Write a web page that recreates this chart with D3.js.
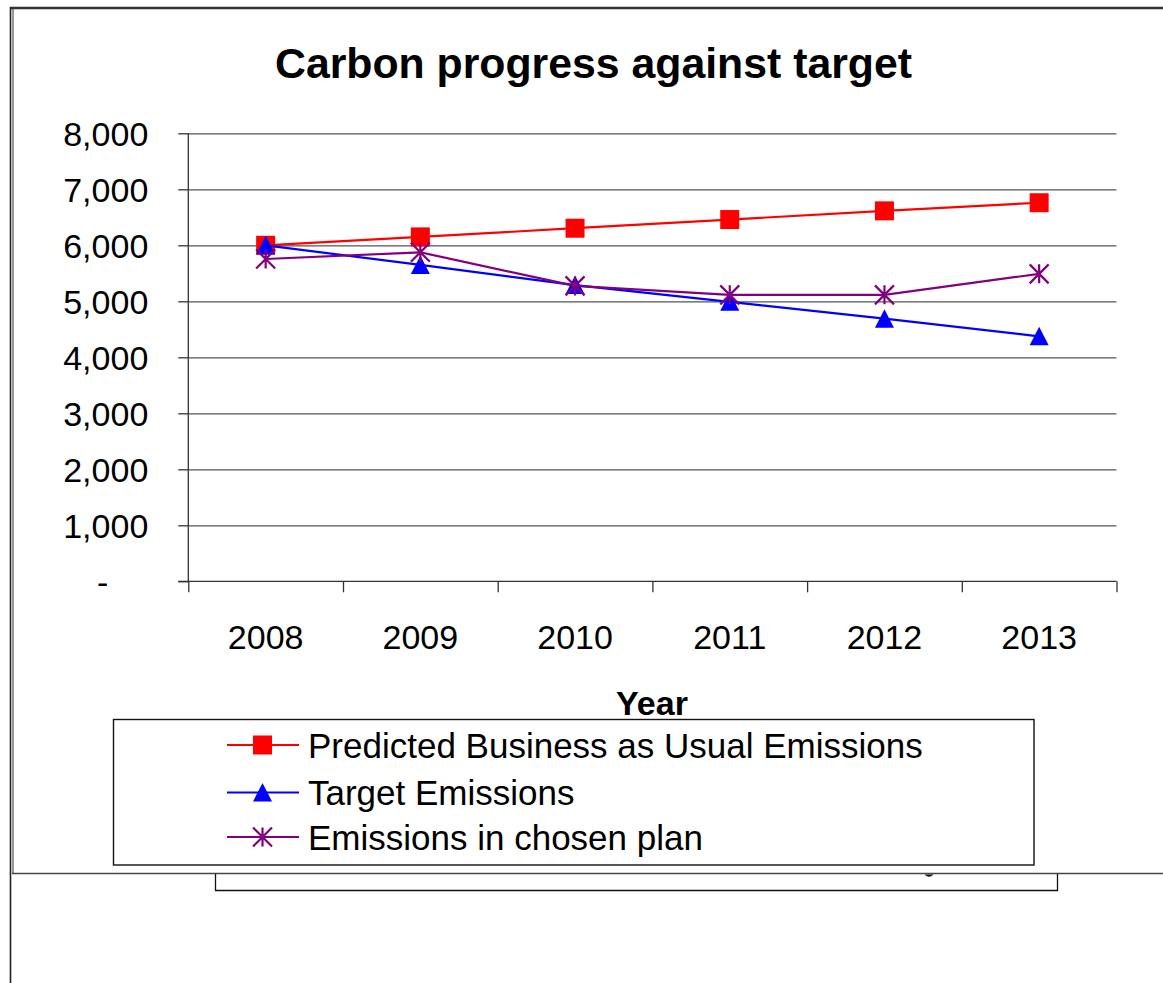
<!DOCTYPE html>
<html><head><meta charset="utf-8">
<script src="https://cdn.jsdelivr.net/npm/d3@7"></script>
<style>body{margin:0;background:#fff}svg{display:block}text{font-family:"Liberation Sans",Arial,sans-serif}</style>
</head><body>
<script>
const years = ["2008","2009","2010","2011","2012","2013"];
const bau = [6000, 6150, 6305, 6460, 6615, 6760];
const target = [6000, 5650, 5290, 4990, 4690, 4375];
const plan = [5755, 5875, 5275, 5115, 5115, 5490];
const yTicks = [0,1000,2000,3000,4000,5000,6000,7000,8000];
const seriesNames = ["Predicted Business as Usual Emissions","Target Emissions","Emissions in chosen plan"];
const titleText = "Carbon progress against target";
const xTitle = "Year";

const W = 1163, H = 983;
const svg = d3.select("body").append("svg").attr("width", W).attr("height", H);
svg.append("rect").attr("width", W).attr("height", H).attr("fill", "#fff");

// outer frames
const frame = svg.append("g").attr("fill","none");
frame.append("line").attr("x1",10).attr("x2",W).attr("y1",8).attr("y2",8).attr("stroke","#333").attr("stroke-width",2.4);
frame.append("line").attr("x1",10.5).attr("x2",10.5).attr("y1",7).attr("y2",H).attr("stroke","#222").attr("stroke-width",1.6);
frame.append("line").attr("x1",13).attr("x2",13).attr("y1",8).attr("y2",874).attr("stroke","#333").attr("stroke-width",1);
frame.append("line").attr("x1",12).attr("x2",W).attr("y1",873.5).attr("y2",873.5).attr("stroke","#444").attr("stroke-width",1.6);
frame.append("path").attr("d","M215.5,874 V890.5 H1057.5 V874").attr("stroke","#111").attr("stroke-width",1.3);
// clipped glyph remnant
svg.append("path").attr("d","M924.5,874.5 Q929,879 933.5,874.5 Z").attr("fill","#111");

const x0 = 188.3, x1 = 1116.5, yTop = 133.3, yBot = 581.3;
const x = d3.scaleBand().domain(years).range([x0, x1]).padding(0);
const xEdge = d3.scaleLinear().domain([0, years.length]).range([x0, x1]);
const y = d3.scaleLinear().domain([0, 8000]).range([yBot, yTop]);
const cx = d => x(d) + x.bandwidth()/2;

// title
svg.append("text").attr("x", 593.5).attr("y", 78).attr("text-anchor","middle")
  .attr("font-size", 43).attr("font-weight","bold").attr("fill","#000")
  .attr("textLength", 637).attr("lengthAdjust","spacingAndGlyphs").text(titleText);

// gridlines
svg.append("g").attr("transform",`translate(${x0},0)`)
  .call(d3.axisLeft(y).tickValues(yTicks.filter(v=>v>0)).tickSize(-(x1-x0)).tickFormat(""))
  .call(g=>{g.select(".domain").remove(); g.selectAll("line").attr("stroke","#555").attr("stroke-width",1.3);});

// y axis
const yAxis = svg.append("g").attr("transform",`translate(${x0},0)`)
  .call(d3.axisLeft(y).tickValues(yTicks).tickSize(10).tickPadding(30)
    .tickFormat(v => v === 0 ? "-" : d3.format(",")(v)));
yAxis.select(".domain").attr("stroke","#333").attr("stroke-width",1.3).attr("d",`M0,${yBot}V${yTop}`);
yAxis.selectAll("line").attr("stroke","#333").attr("stroke-width",1.3);
yAxis.selectAll("text").attr("font-size",34).attr("fill","#000").attr("font-family",'"Liberation Sans",Arial,sans-serif').attr("dy","0.35em");
yAxis.selectAll(".tick").filter(v=>v===0).select("text").attr("x",-80);

// x axis
const xAxis = svg.append("g").attr("transform",`translate(0,${yBot})`)
  .call(d3.axisBottom(xEdge).tickValues(d3.range(years.length+1)).tickSize(11).tickFormat(""));
xAxis.select(".domain").attr("stroke","#333").attr("stroke-width",1.3).attr("d",`M${x0-10},0H${x1}`);
xAxis.selectAll("line").attr("stroke","#333").attr("stroke-width",1.3);

svg.append("g").selectAll("text").data(years).join("text")
  .attr("x", d=>cx(d)).attr("y", 649).attr("text-anchor","middle")
  .attr("font-size",34).attr("fill","#000").text(d=>d);

svg.append("text").attr("x", 652).attr("y", 715).attr("text-anchor","middle")
  .attr("font-size",34).attr("font-weight","bold").attr("fill","#000").text(xTitle);

// series
const series = [
  {name: seriesNames[0], values: bau, color: "#ff0000", marker: "square"},
  {name: seriesNames[1], values: target, color: "#0000ff", marker: "triangle"},
  {name: seriesNames[2], values: plan, color: "#800080", marker: "star"}
];

function drawMarker(g, type, color, px, py){
  if(type==="square"){
    g.append("rect").attr("x",px-9.5).attr("y",py-9.5).attr("width",19).attr("height",19).attr("fill",color);
  } else if(type==="triangle"){
    g.append("path").attr("d",`M${px},${py-9.5}L${px+9.5},${py+9}L${px-9.5},${py+9}Z`).attr("fill",color);
  } else {
    const r = 9.5;
    g.append("path").attr("d",`M${px},${py-r}V${py+r}M${px-r},${py-r}L${px+r},${py+r}M${px+r},${py-r}L${px-r},${py+r}`)
      .attr("stroke",color).attr("stroke-width",2.2).attr("fill","none");
  }
}

const line = d3.line().x((d,i)=>cx(years[i])).y(d=>y(d));
series.forEach(s=>{
  const g = svg.append("g");
  g.append("path").datum(s.values).attr("d", line).attr("fill","none").attr("stroke", s.color).attr("stroke-width",2.2);
  s.values.forEach((v,i)=>drawMarker(g, s.marker, s.color, cx(years[i]), y(v)));
});

// legend
const lg = svg.append("g");
lg.append("rect").attr("x",113.5).attr("y",719.5).attr("width",920.5).attr("height",145.5)
  .attr("fill","#fff").attr("stroke","#111").attr("stroke-width",1.4);
const rowY = [745, 792.5, 837];
series.forEach((s,i)=>{
  lg.append("line").attr("x1",227).attr("x2",299).attr("y1",rowY[i]).attr("y2",rowY[i]).attr("stroke",s.color).attr("stroke-width",2.2);
  drawMarker(lg, s.marker, s.color, 262.5, rowY[i]);
  lg.append("text").attr("x",308).attr("y",rowY[i]+12.5).attr("font-size",35).attr("fill","#000").text(s.name);
});
</script>
</body></html>
